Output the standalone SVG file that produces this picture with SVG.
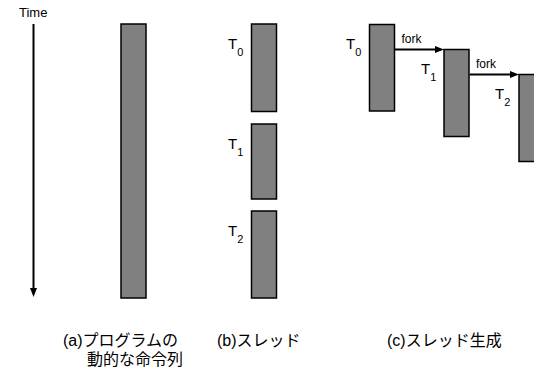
<svg xmlns="http://www.w3.org/2000/svg" width="534" height="372" viewBox="0 0 534 372">
<style>
.bar{fill:#808080;stroke:#000;stroke-width:1.5}
.lbl{font-family:"Liberation Sans","Noto Sans CJK JP",sans-serif;fill:#000}
.t{font-size:15px}
.sub{font-size:11px}
.cap{font-size:16px}
.small{font-size:12px}
.ln{stroke:#000;fill:none}
</style>
<rect width="534" height="372" fill="#fff"/>
<g id="time">
<text class="lbl" x="19" y="17" font-size="13">Time</text>
</g>
<g id="connectors">
<line class="ln" x1="33.5" y1="24" x2="33.5" y2="289" stroke-width="2"/>
<polygon points="30,288 37,288 33.5,297" fill="#000"/>
<line class="ln" x1="394.5" y1="49.5" x2="436" y2="49.5" stroke-width="1.8"/>
<polygon points="435,46 444,49.5 435,53" fill="#000"/>
<line class="ln" x1="469.5" y1="74.5" x2="511" y2="74.5" stroke-width="1.8"/>
<polygon points="510,71 519,74.5 510,78" fill="#000"/>
</g>
<g id="a-program">
<rect class="bar" x="121" y="24" width="25" height="274"/>
</g>
<g id="b-T0">
<rect class="bar" x="251.5" y="24" width="25" height="87.5"/>
<text class="lbl t" x="228" y="49">T<tspan class="sub" dy="6.5">0</tspan></text>
</g>
<g id="b-T1">
<rect class="bar" x="251.5" y="124" width="25" height="75"/>
<text class="lbl t" x="228" y="149">T<tspan class="sub" dy="6.5">1</tspan></text>
</g>
<g id="b-T2">
<rect class="bar" x="251.5" y="211" width="25" height="87"/>
<text class="lbl t" x="228" y="236">T<tspan class="sub" dy="6.5">2</tspan></text>
</g>
<g id="c-T0">
<rect class="bar" x="369.5" y="24.5" width="25" height="86.5"/>
<text class="lbl t" x="346" y="49">T<tspan class="sub" dy="6.5">0</tspan></text>
</g>
<g id="c-T1">
<rect class="bar" x="444" y="49.5" width="25" height="87"/>
<text class="lbl t" x="421" y="74">T<tspan class="sub" dy="6.5">1</tspan></text>
</g>
<g id="c-T2">
<rect class="bar" x="519" y="74.5" width="25" height="87"/>
<text class="lbl t" x="495" y="99">T<tspan class="sub" dy="6.5">2</tspan></text>
</g>
<g id="fork-labels">
<text class="lbl small" x="401.5" y="43">fork</text>
<text class="lbl small" x="476" y="68">fork</text>
</g>
<g id="captions">
<text class="lbl cap" x="63" y="346">(a)プログラムの</text>
<text class="lbl cap" x="87" y="365">動的な命令列</text>
<text class="lbl cap" x="217" y="346">(b)スレッド</text>
<text class="lbl cap" x="387" y="346">(c)スレッド生成</text>
</g>
</svg>
